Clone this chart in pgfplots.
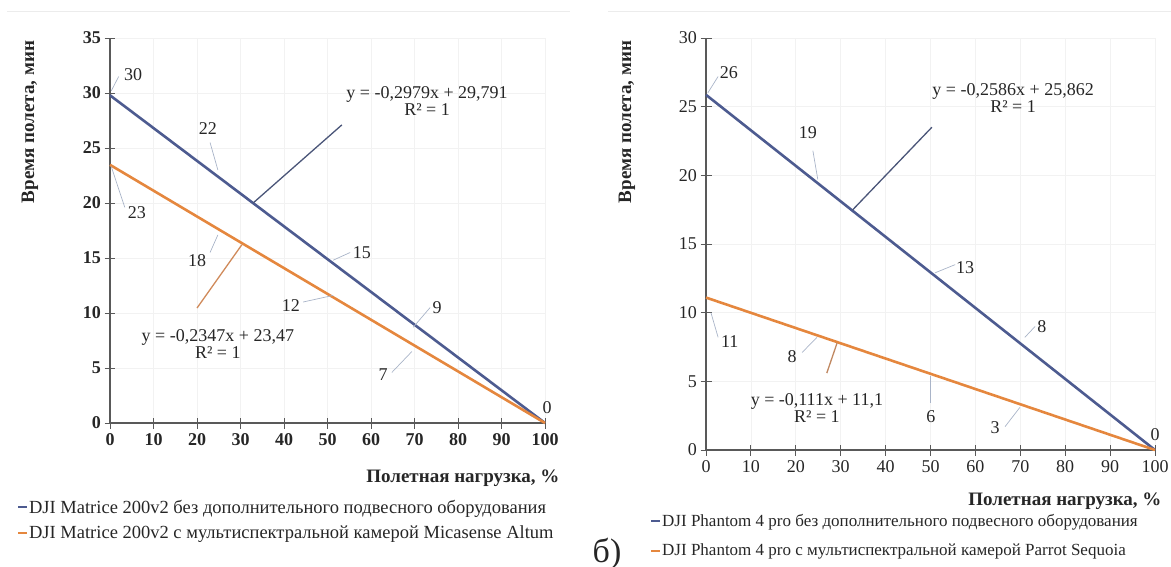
\documentclass[border=0pt]{standalone}
\usepackage{fontspec}
\setmainfont{Liberation Serif}
\usepackage{pgfplots}
\pgfplotsset{compat=1.18}
\definecolor{cblue}{HTML}{4D5B90}
\definecolor{corange}{HTML}{E5873E}
\definecolor{axgray}{HTML}{595959}
\definecolor{lead}{HTML}{A9B4C8}
\definecolor{bleq}{HTML}{4A5578}
\definecolor{oreq}{HTML}{D08A5A}
\definecolor{txt}{HTML}{262626}
\newcommand{\fs}[1]{\fontsize{#1}{#1}\selectfont}

\pgfplotstableread{
x y
0 29.791
25 22.344
50 14.896
70 8.938
100 0
}\Lblue
\pgfplotstableread{
x y
0 23.47
25 17.60
50 11.735
70 7.04
100 0
}\Lorange
\pgfplotstableread{
x y
0 25.862
25 19.397
50 12.932
70 7.760
100 0
}\Rblue
\pgfplotstableread{
x y
0 11.1
25 8.325
50 5.55
70 3.33
100 0
}\Rorange

\pgfplotsset{
  common/.style={
    scale only axis, anchor=south west,
    xmin=0, xmax=100, ymin=0,
    axis lines=left, axis line style={-, axgray, line width=1.2pt},
    xtick={0,10,...,100},
    tick align=center, major tick length=11pt,
    tick style={axgray, line width=1pt},
    grid=major, grid style={gray!10, line width=0.8pt},
    /pgf/number format/assume math mode=true,
    clip=false,
    legend cell align=left,
    legend image code/.code={\draw[##1, line width=2pt] (0pt,0pt) -- (9pt,0pt);},
  },
}
\tikzset{
  dl/.style={font=\fs{18}, text=txt, inner sep=1pt},
  ld/.style={lead, line width=0.7pt},
}

\begin{document}
\begin{tikzpicture}[x=1pt,y=1pt]
\useasboundingbox (0,0) rectangle (1171,566);
\draw[gray!15, line width=1pt] (7,554) -- (570,554);
\draw[gray!15, line width=1pt] (608,554) -- (1171,554);

% ---------------- left chart ----------------
\begin{axis}[common, at={(110pt,143pt)}, width=435pt, height=385pt,
  ymax=35, ytick={0,5,...,35},
  ticklabel style={font=\bfseries\fs{18}, text=txt},
  xticklabel style={yshift=-1pt},
  legend style={at={(axis description cs:-0.214,-0.197)}, anchor=north west,
    draw=none, fill=none, font=\fs{18.5}, text=txt, row sep=9pt,
    inner sep=0pt, nodes={inner sep=1pt}},
]
\addplot[cblue, line width=2.6pt] table[x=x,y=y]{\Lblue};
\addlegendentry{DJI Matrice 200v2 без дополнительного подвесного оборудования}
\addplot[corange, line width=2.6pt] table[x=x,y=y]{\Lorange};
\addlegendentry{DJI Matrice 200v2 с мультиспектральной камерой Micasense Altum}
% trendline labels
\draw[bleq, line width=1.3pt] (axis cs:32.9,20.0) -- (axis cs:53.3,27.1);
\node[dl, align=center] at (axis cs:72.9,29.3) {y = -0,2979x + 29,791\\[-1pt]R² = 1};
\draw[oreq, line width=1.3pt] (axis cs:30.3,16.2) -- (axis cs:20,10.45);
\node[dl, align=center] at (axis cs:24.8,7.2) {y = -0,2347x + 23,47\\[-1pt]R² = 1};
% data labels
\draw[ld] (axis cs:0.3,30.2) -- (axis cs:2,31.5);
\node[dl] at (axis cs:5.3,31.7) {30};
\draw[ld] (axis cs:24.8,23.0) -- (axis cs:23.0,25.5);
\node[dl] at (axis cs:22.5,26.8) {22};
\draw[ld] (axis cs:0.3,23.3) -- (axis cs:3.4,19.6);
\node[dl] at (axis cs:6.2,19.1) {23};
\draw[ld] (axis cs:24.8,17.1) -- (axis cs:23,15.5);
\node[dl] at (axis cs:20,14.8) {18};
\draw[ld] (axis cs:51.3,14.8) -- (axis cs:55.2,15.5);
\node[dl] at (axis cs:57.9,15.5) {15};
\draw[ld] (axis cs:44.4,11.0) -- (axis cs:51.3,11.6);
\node[dl] at (axis cs:41.6,10.7) {12};
\draw[ld] (axis cs:69.7,8.7) -- (axis cs:73.6,10.5);
\node[dl] at (axis cs:75.2,10.5) {9};
\draw[ld] (axis cs:64.8,4.6) -- (axis cs:69.4,6.5);
\node[dl] at (axis cs:62.8,4.4) {7};
\node[dl] at (axis cs:100.5,1.4) {0};
\end{axis}
\node[font=\bfseries\fs{19}, rotate=90, text=txt] at (30,444) {Время полета, мин};
\node[font=\bfseries\fs{19}, anchor=east, text=txt] at (563,88) {Полетная нагрузка, \%};

% ---------------- right chart ----------------
\begin{axis}[common, at={(706pt,116pt)}, width=449pt, height=412pt,
  ymax=30, ytick={0,5,...,30},
  ticklabel style={font=\fs{18}, text=txt},
  xticklabel style={yshift=-1pt},
  legend style={at={(axis description cs:-0.1247,-0.1535)}, anchor=north west,
    draw=none, fill=none, font=\fs{17}, text=txt, row sep=14pt,
    inner sep=0pt, nodes={inner sep=1pt}},
]
\addplot[cblue, line width=2.6pt] table[x=x,y=y]{\Rblue};
\addlegendentry{DJI Phantom 4 pro без дополнительного подвесного оборудования}
\addplot[corange, line width=2.6pt] table[x=x,y=y]{\Rorange};
\addlegendentry{DJI Phantom 4 pro с мультиспектральной камерой Parrot Sequoia}
% trendline labels
\draw[bleq, line width=1.3pt] (axis cs:32.7,17.5) -- (axis cs:50.3,23.5);
\node[dl, align=center] at (axis cs:68.4,25.65) {y = -0,2586x + 25,862\\[-1pt]R² = 1};
\draw[oreq!80!gray, line width=1.3pt] (axis cs:29.2,7.8) -- (axis cs:26.9,5.6);
\node[dl, align=center] at (axis cs:24.7,3.05) {y = -0,111x + 11,1\\[-1pt]R² = 1};
% data labels
\draw[ld] (axis cs:0.4,26.0) -- (axis cs:2.7,27.2);
\node[dl] at (axis cs:5.1,27.5) {26};
\draw[ld] (axis cs:24.9,19.7) -- (axis cs:23.8,21.8);
\node[dl] at (axis cs:22.7,23.1) {19};
\draw[ld] (axis cs:51,12.9) -- (axis cs:55.5,13.5);
\node[dl] at (axis cs:57.7,13.3) {13};
\draw[ld] (axis cs:71,8.2) -- (axis cs:73.3,9.0);
\node[dl] at (axis cs:74.8,9.0) {8};
\draw[ld] (axis cs:1.1,10.0) -- (axis cs:2.7,8.2);
\node[dl] at (axis cs:5.3,7.9) {11};
\draw[ld] (axis cs:24.7,8.2) -- (axis cs:21.4,7.1);
\node[dl] at (axis cs:19.2,6.8) {8};
\draw[ld] (axis cs:50,5.4) -- (axis cs:50,3.4);
\node[dl] at (axis cs:50.1,2.4) {6};
\draw[ld] (axis cs:66.6,1.7) -- (axis cs:69.9,3.1);
\node[dl] at (axis cs:64.4,1.6) {3};
\node[dl] at (axis cs:100,1.1) {0};
\end{axis}
\node[font=\bfseries\fs{19}, rotate=90, text=txt] at (627,444) {Время полета, мин};
\node[font=\bfseries\fs{19}, anchor=east, text=txt] at (1165,65) {Полетная нагрузка, \%};

\node[font=\fs{34}, text=txt] at (607,12) {б)};
\end{tikzpicture}
\end{document}
